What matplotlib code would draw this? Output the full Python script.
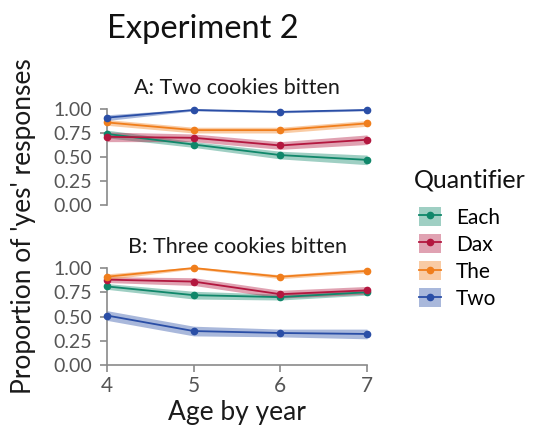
import matplotlib
matplotlib.use("Agg")
import matplotlib.pyplot as plt
from matplotlib.lines import Line2D
from matplotlib.patches import Patch
from matplotlib.legend_handler import HandlerTuple
import numpy as np

plt.rcParams['font.family'] = ['Lato', 'DejaVu Sans']

ages = [4, 5, 6, 7]
quantifiers = ["Each", "Dax", "The", "Two"]
colors = {"Each": "#10876a", "Dax": "#b3173f", "The": "#f07e1c", "Two": "#2a4ea6"}

# Panel A: two cookies bitten
two_bitten_mean = {
    "Each": [0.74, 0.63, 0.52, 0.47],
    "Dax":  [0.71, 0.70, 0.62, 0.68],
    "The":  [0.86, 0.78, 0.78, 0.85],
    "Two":  [0.91, 0.99, 0.97, 0.99],
}
two_bitten_se = {
    "Each": [0.04, 0.03, 0.04, 0.05],
    "Dax":  [0.05, 0.04, 0.04, 0.05],
    "The":  [0.03, 0.03, 0.03, 0.03],
    "Two":  [0.03, 0.01, 0.01, 0.01],
}
# Panel B: three cookies bitten
three_bitten_mean = {
    "Each": [0.81, 0.72, 0.70, 0.75],
    "Dax":  [0.88, 0.86, 0.73, 0.77],
    "The":  [0.91, 1.00, 0.91, 0.97],
    "Two":  [0.51, 0.35, 0.33, 0.32],
}
three_bitten_se = {
    "Each": [0.03, 0.04, 0.03, 0.03],
    "Dax":  [0.03, 0.04, 0.04, 0.04],
    "The":  [0.03, 0.01, 0.02, 0.02],
    "Two":  [0.05, 0.05, 0.04, 0.05],
}

fig = plt.figure(figsize=(5.44, 4.37), dpi=100)
W, H = 544, 437

def axes_px(x0, x1, ytop, ybot):
    return fig.add_axes([x0 / W, 1 - ybot / H, (x1 - x0) / W, (ybot - ytop) / H])

axA = axes_px(107, 367, 109, 205)
axB = axes_px(107, 367, 268, 365)

grey = "#555555"
spine_col = "#8a8a8a"

def draw(ax, means, ses, title, show_x, pad):
    for q in quantifiers:
        m = np.array(means[q]); s = np.array(ses[q])
        ax.fill_between(ages, m - s, m + s, color=colors[q], alpha=0.4, lw=0, clip_on=False)
        ax.plot(ages, m, color=colors[q], lw=1.3, marker="o", ms=4.5, clip_on=False, zorder=3)
    ax.set_xlim(4, 7)
    ax.set_ylim(0, 1)
    ax.set_yticks([0, 0.25, 0.5, 0.75, 1.0])
    ax.set_yticklabels(["0.00", "0.25", "0.50", "0.75", "1.00"])
    for sp in ["top", "right"]:
        ax.spines[sp].set_visible(False)
    ax.spines["left"].set_color(spine_col)
    ax.spines["left"].set_linewidth(1.2)
    ax.tick_params(axis="y", colors=spine_col, labelcolor=grey, labelsize=14, length=5, width=1.2, pad=6)
    if show_x:
        ax.spines["bottom"].set_color(spine_col)
        ax.spines["bottom"].set_linewidth(1.2)
        ax.set_xticks(ages)
        ax.tick_params(axis="x", colors=spine_col, labelcolor=grey, labelsize=15, length=5, width=1.2, pad=3)
        ax.set_xlabel("Age by year", fontsize=19, color="#1a1a1a", labelpad=3)
    else:
        ax.spines["bottom"].set_visible(False)
        ax.set_xticks([])
    ax.set_title(title, fontsize=15.5, color="#1a1a1a", pad=pad)
    ax.patch.set_alpha(0)

draw(axA, two_bitten_mean, two_bitten_se, "A: Two cookies bitten", False, 11)
draw(axB, three_bitten_mean, three_bitten_se, "B: Three cookies bitten", True, 10.5)

fig.text(107 / W, 1 - 38 / H, "Experiment 2", fontsize=23.5, color="#111111", ha="left", va="baseline")
fig.text(24 / W, 1 - 226 / H, "Proportion of 'yes' responses", fontsize=19, color="#1a1a1a",
         rotation=90, ha="center", va="center")

# legend title drawn separately so it sits higher above the keys
fig.text(414 / W, 1 - 180 / H, "Quantifier", fontsize=18, color="#111111", ha="left", va="center")
handles = [(Patch(facecolor=colors[q], alpha=0.4, edgecolor="none"),
            Line2D([], [], color=colors[q], lw=1.3, marker="o", ms=4.5)) for q in quantifiers]
leg = fig.legend(handles, quantifiers, handler_map={tuple: HandlerTuple(ndivide=1)},
                 loc="center left", bbox_to_anchor=(400 / W, 1 - 258 / H),
                 frameon=False, fontsize=15, handlelength=1.05, handleheight=1.05,
                 labelspacing=0.3, handletextpad=0.75)

fig.savefig("out.png", dpi=100)
